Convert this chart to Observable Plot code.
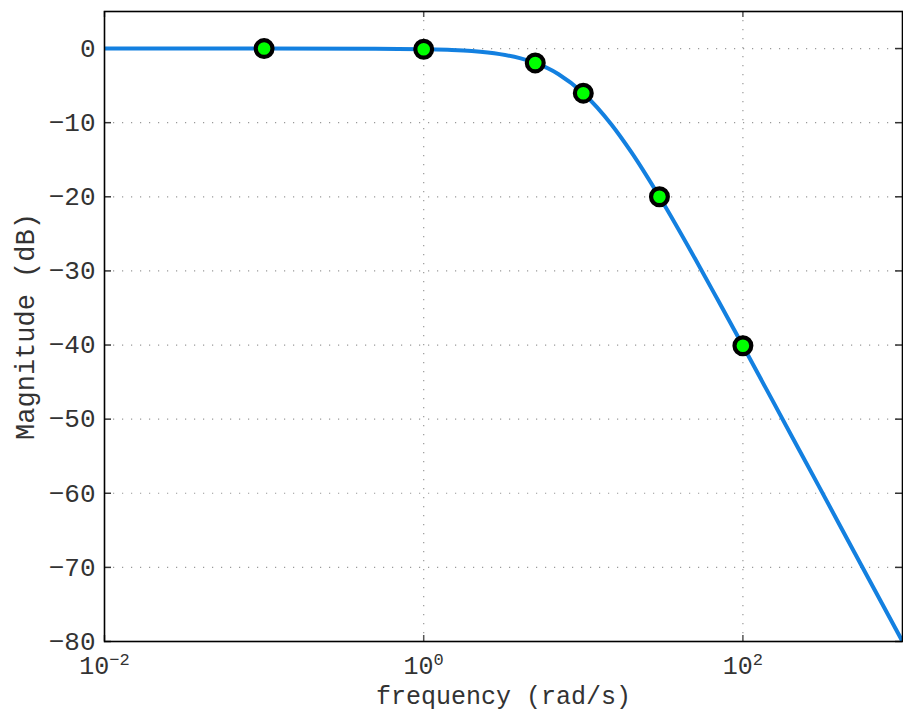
<!DOCTYPE html>
<html>
<head>
<meta charset="utf-8">
<script src="https://cdn.jsdelivr.net/npm/d3@7"></script>
<script src="https://cdn.jsdelivr.net/npm/@observablehq/plot@0.6"></script>
<style>
  html, body { margin: 0; padding: 0; background: #fff; }
  #chart svg { display: block; }
</style>
</head>
<body>
<div id="chart"></div>
<script>
// Curve samples (frequency in rad/s, magnitude in dB)
const freq  = [0.01, 0.1, 0.5, 1, 1.5, 2, 3, 4, 5, 7, 10, 15, 20, 30, 50, 70, 100, 200, 300, 500, 1000];
const magDb = [0, 0, -0.01, -0.09, -0.19, -0.34, -0.75, -1.29, -1.94, -3.46, -6.02, -10.24, -13.98, -20, -28.3, -34.0, -40.1, -52.1, -59.1, -68.0, -80.0];

// Highlighted points
const markFreq = [0.1, 1, 5, 10, 30, 100];
const markDb   = [0, -0.09, -1.94, -6.02, -20, -40.1];

// Axis ticks
const yTicks = [-80, -70, -60, -50, -40, -30, -20, -10, 0];
const yGrid  = [-70, -60, -50, -40, -30, -20, -10, 0];
const xTicks = [0.01, 1, 100];
const xTickLabels = ["10^-2", "10^0", "10^2"];
const xGrid  = [1, 100];

const xLabel = "frequency (rad/s)";
const yLabel = "Magnitude (dB)";

const W = 903, H = 711;
const mL = 104, mR = 1, mT = 11, mB = 70;
const pw = W - mL - mR, ph = H - mT - mB;

const curve = freq.map((f, i) => ({f, db: magDb[i]}));
const marks = markFreq.map((f, i) => ({f, db: markDb[i]}));

const font = "'Liberation Mono', 'Courier New', monospace";

const chart = Plot.plot({
  width: W, height: H,
  marginLeft: mL, marginRight: mR, marginTop: mT, marginBottom: mB,
  style: {fontFamily: font, background: "#fff", color: "#333"},
  x: {type: "log", domain: [1e-2, 1e3]},
  y: {domain: [-80, 5]},
  marks: [
    Plot.gridY(yGrid, {stroke: "#999", strokeOpacity: 1, strokeWidth: 1.2, strokeDasharray: "1.2,7.8"}),
    Plot.gridX(xGrid, {stroke: "#999", strokeOpacity: 1, strokeWidth: 1.2, strokeDasharray: "1.2,7.8"}),
    // inward ticks on all four sides
    Plot.tickY(yTicks, {y: d => d, insetRight: pw - 7, stroke: "#333", strokeWidth: 1.5}),
    Plot.tickY(yTicks, {y: d => d, insetLeft: pw - 7, stroke: "#333", strokeWidth: 1.5}),
    Plot.tickX(xTicks, {x: d => d, insetTop: ph - 6, stroke: "#555", strokeWidth: 1.5}),
    Plot.tickX(xTicks, {x: d => d, insetBottom: ph - 6, stroke: "#555", strokeWidth: 1.5}),
    Plot.axisY(yTicks, {tickSize: 0, tickPadding: 9, fontSize: 26, label: null, fill: "#333"}),
    Plot.axisX(xTicks, {tickSize: 0, tickPadding: 15, fontSize: 25, label: null, fill: "#333",
      tickFormat: d => xTickLabels[xTicks.indexOf(d)]}),
    Plot.line(curve, {x: "f", y: "db", stroke: "#1380e0", strokeWidth: 4, curve: "monotone-x", clip: true}),
    Plot.frame({stroke: "#000", strokeWidth: 1.6}),
    Plot.dot(marks, {x: "f", y: "db", r: 8.4, fill: "#00ff00", stroke: "#000", strokeWidth: 4.2}),
    Plot.text([xLabel], {frameAnchor: "bottom", lineAnchor: "middle", textAnchor: "middle", dy: 54, fontSize: 25, fill: "#333", fontFamily: font}),
    Plot.text([yLabel], {frameAnchor: "left", lineAnchor: "middle", textAnchor: "middle", dx: -79, rotate: -90, fontSize: 27, fill: "#333", fontFamily: font})
  ]
});

// turn "10^k" labels into a base with a superscript exponent
d3.select(chart).selectAll('g[aria-label="x-axis tick label"] text').each(function() {
  const t = this.textContent;
  const parts = t.split("^");
  if (parts.length === 2) {
    this.textContent = "";
    this.appendChild(document.createTextNode(parts[0]));
    const sup = document.createElementNS("http://www.w3.org/2000/svg", "tspan");
    sup.setAttribute("dy", "-0.55em");
    sup.setAttribute("font-size", "17");
    sup.textContent = parts[1].replace("-", "\u2212");
    this.appendChild(sup);
  }
});
d3.select(chart).selectAll('g[aria-label="y-axis tick label"] text').each(function() {
  this.textContent = this.textContent.replace("-", "\u2212");
});

document.getElementById("chart").appendChild(chart);
</script>
</body>
</html>
